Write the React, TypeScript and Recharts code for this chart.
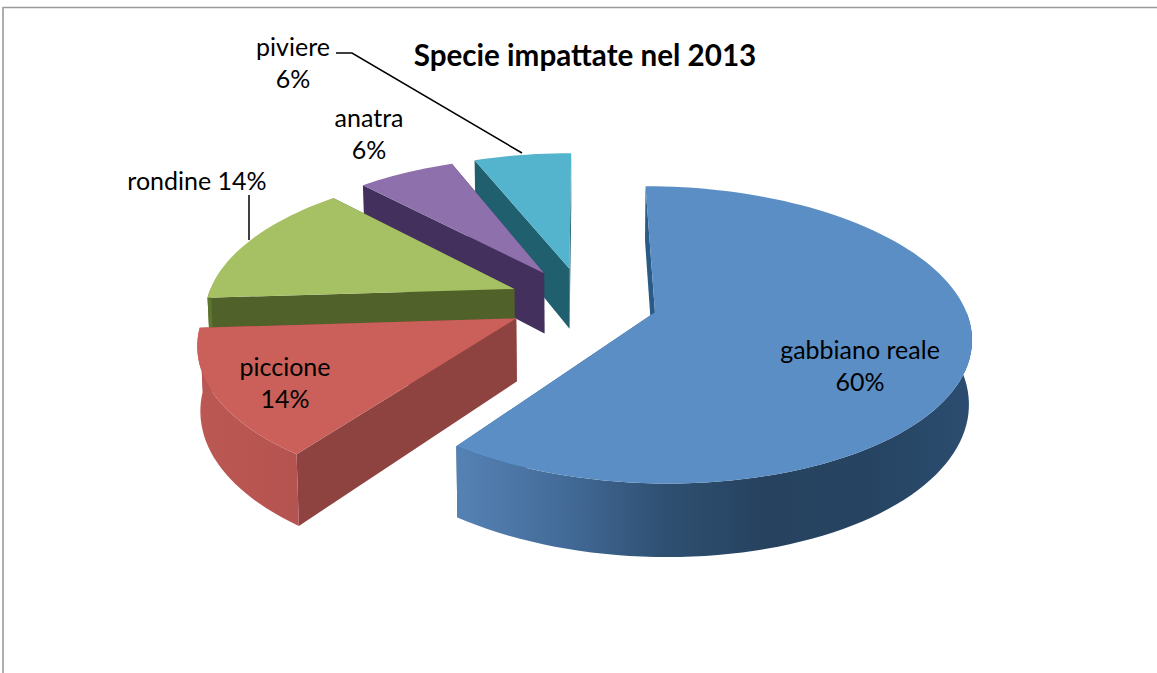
import React from "react";
import { PieChart, Pie, Cell } from "recharts";

// Data, listed back-to-front so that nearer slices paint over farther ones.
const species = ["piviere", "anatra", "rondine", "piccione", "gabbiano reale"];
const shares = [6, 6, 14, 14, 60];
const percentLabels = ["6%", "6%", "14%", "14%", "60%"];
const chartTitle = "Specie impattate nel 2013";

const topColors = ["#54B4CE", "#8D70AC", "#A6C064", "#CB605A", "#5B8EC5"];
const radialWallColors = ["#1F5F6E", "#43305C", "#50622A", "#8F4340", "#2A5A86"];
const outerWallStops = [
  ["#2F7F93", "#2F7F93"],
  ["#4A3668", "#4A3668"],
  ["#5E7530", "#5E7530"],
  ["#BC5853", "#B55350"],
  ["#5582B4", "#446C9A", "#2F5072", "#26425F", "#264462", "#2C4D70"],
];

// Projection of the flat pie into the tilted 3D view
const FONT = "Lato, 'Open Sans', sans-serif";
const Y_SQUASH = 142 / 308;
const PERSPECTIVE = 0.15;
const EXPLODE = 0.243;

const toScreen = (cx: number, cy: number, R: number, X: number, Z: number) => {
  const s = 1 / (1 - PERSPECTIVE * Z);
  return { x: cx + R * X * s, y: cy + R * Y_SQUASH * Z * s, s };
};
const lower = (cx: number, p: { x: number; y: number; s: number }) => ({
  x: cx + (p.x - cx) * 0.992,
  y: p.y + 60 * p.s + 2,
});
const toPath = (pts: { x: number; y: number }[]) =>
  "M" + pts.map((p) => `${p.x.toFixed(2)},${p.y.toFixed(2)}`).join("L") + "Z";

const Slice = (props: any) => {
  const { cx, cy, outerRadius, startAngle, endAngle, midAngle, index } = props;
  const i = index ?? species.indexOf(props.name);
  const rad = Math.PI / 180;
  const X0 = EXPLODE * Math.cos(midAngle * rad);
  const Z0 = -EXPLODE * Math.sin(midAngle * rad);
  const apex = toScreen(cx, cy, outerRadius, X0, Z0);
  const steps = Math.max(8, Math.ceil(Math.abs(endAngle - startAngle) / 2));
  const arc = [];
  const frontArc = [];
  for (let k = 0; k <= steps; k++) {
    const a = (startAngle + ((endAngle - startAngle) * k) / steps) * rad;
    const p = toScreen(cx, cy, outerRadius, X0 + Math.cos(a), Z0 - Math.sin(a));
    arc.push(p);
    if (-Math.sin(a) > -0.02) frontArc.push(p);
  }
  const low = (p: any) => lower(cx, p);
  const gid = `wall-${i}`;
  const stops = outerWallStops[i];
  const first = arc[0];
  const last = arc[arc.length - 1];
  return (
    <g>
      <defs>
        <linearGradient id={gid} x1="0" y1="0" x2="1" y2="0">
          {stops.map((c, k) => (
            <stop key={k} offset={k / (stops.length - 1)} stopColor={c} />
          ))}
        </linearGradient>
      </defs>
      <path d={toPath([apex, first, low(first), low(apex)])} fill={radialWallColors[i]} />
      <path d={toPath([apex, last, low(last), low(apex)])} fill={radialWallColors[i]} />
      {frontArc.length > 1 && (
        <path d={toPath([...frontArc, ...frontArc.slice().reverse().map(low)])} fill={`url(#${gid})`} />
      )}
      <path d={toPath([apex, ...arc])} fill={topColors[i]} />
    </g>
  );
};

const labelPlacement: Record<string, { x: number; y: number; oneLine?: boolean }> = {
  piviere: { x: 293, y: 56 },
  anatra: { x: 369, y: 127 },
  rondine: { x: 197, y: 190, oneLine: true },
  piccione: { x: 285, y: 376 },
  "gabbiano reale": { x: 860, y: 359 },
};
const LINE_GAP = 31.5;
const LABEL_SIZE = 25;

const SliceLabel = (props: any) => {
  const name = props.name ?? props.payload?.name;
  const idx = species.indexOf(name);
  const pos = labelPlacement[name];
  const pct = percentLabels[idx];
  const common = { fontFamily: FONT, fontSize: LABEL_SIZE, fill: "#000", textAnchor: "middle" as const };
  return (
    <g>
      {pos.oneLine ? (
        <text x={pos.x} y={pos.y} {...common}>{`${name} ${pct}`}</text>
      ) : (
        <text x={pos.x} y={pos.y} {...common}>
          <tspan x={pos.x}>{name}</tspan>
          <tspan x={pos.x} dy={LINE_GAP}>{pct}</tspan>
        </text>
      )}
    </g>
  );
};

const data = species.map((name, i) => ({ name, value: shares[i] }));

export default function App() {
  return (
    <div style={{ position: "absolute", left: 0, top: 0, width: 1157, height: 673, background: "#fff" }}>
      <PieChart width={1157} height={673} margin={{ top: 0, right: 0, bottom: 0, left: 0 }}>
        <path d="M3,673V7.5H1157" fill="none" stroke="#9A9A9A" strokeWidth={1.6} />
        <Pie
          data={data}
          dataKey="value"
          nameKey="name"
          cx={583}
          cy={301.5}
          innerRadius={0}
          outerRadius={308}
          startAngle={90}
          endAngle={450}
          paddingAngle={0}
          stroke="none"
          isAnimationActive={false}
          shape={Slice}
          label={SliceLabel}
          labelLine={false}
        >
          {data.map((d, i) => (
            <Cell key={d.name} fill={topColors[i]} />
          ))}
        </Pie>
        <path d="M336,53H352L522,153" fill="none" stroke="#000" strokeWidth={1.5} />
        <path d="M249,195V240" fill="none" stroke="#000" strokeWidth={1.5} />
        <text x={585} y={66} textAnchor="middle" fontFamily={FONT} fontWeight={700} fontSize={29.6} fill="#000">
          {chartTitle}
        </text>
      </PieChart>
    </div>
  );
}
